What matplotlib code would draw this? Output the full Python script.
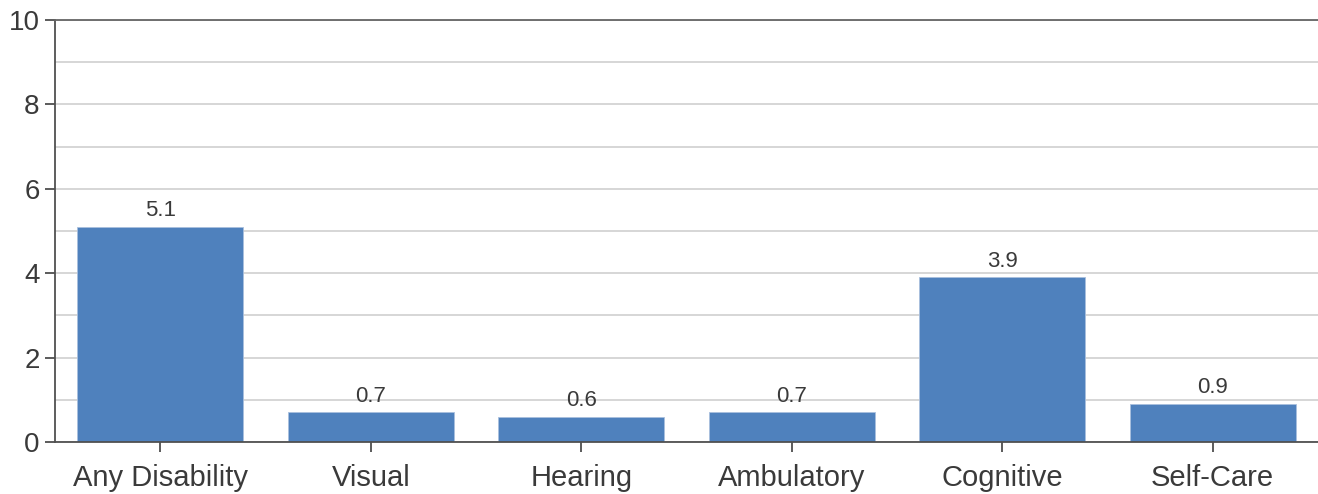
import matplotlib
matplotlib.use('Agg')
import matplotlib.pyplot as plt
import numpy as np

#%% data
categories = ['Any Disability', 'Visual', 'Hearing', 'Ambulatory', 'Cognitive', 'Self-Care']
values = [5.1, 0.7, 0.6, 0.7, 3.9, 0.9]
yticks = [0, 2, 4, 6, 8, 10]

#%% plot
plt.rcParams['font.family'] = ['Liberation Sans', 'DejaVu Sans']
txt = '#3a3a3a'

fig = plt.figure(figsize=(13.18, 4.94), dpi=100)
ax = fig.add_axes([55/1318, 52/494, 1 - 55/1318, 422/494])

x = np.arange(len(categories))
ax.set_axisbelow(True)
ax.yaxis.grid(True, color='#d0d0d0', linewidth=1.2)
bars = ax.bar(x, values, width=0.79, color='#4f81bd', edgecolor='#a9c0de', linewidth=0.6)

for xi, v in zip(x, values):
    ax.text(xi, v + 0.14, '%.1f' % v, ha='center', va='bottom', fontsize=16, color=txt)

ax.set_xlim(-0.5, len(categories) - 0.5)
ax.set_ylim(0, 10)
ax.set_yticks(range(0, 11))
ax.set_yticklabels([str(t) if t in yticks else '' for t in range(0, 11)])
ax.set_xticks(x)
ax.set_xticklabels(categories)

# ticks only at labelled values
for t, tl in zip(ax.yaxis.get_major_ticks(), range(0, 11)):
    if tl not in yticks:
        t.tick1line.set_visible(False)

ax.tick_params(axis='both', direction='out', length=7, width=1.2, color='#404040',
               labelcolor=txt, pad=4)
ax.tick_params(axis='y', labelsize=20)
ax.tick_params(axis='x', labelsize=21, pad=9)

for s in ['left', 'bottom', 'top']:
    ax.spines[s].set_color('#505050')
    ax.spines[s].set_linewidth(1.3)
ax.spines['top'].set_color('#666666')
ax.spines['right'].set_visible(False)

fig.savefig('out.png', dpi=100)
